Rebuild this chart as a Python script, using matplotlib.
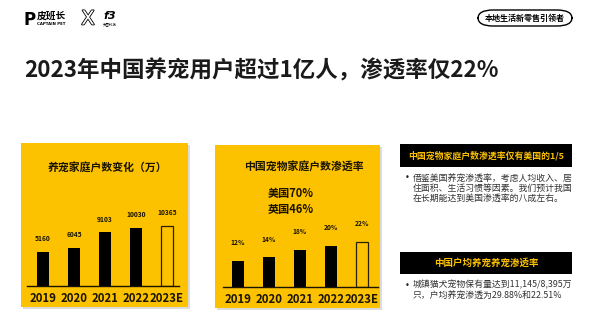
import matplotlib
matplotlib.use("Agg")
import matplotlib.pyplot as plt
import matplotlib.patheffects as pe
from matplotlib.patches import Rectangle, FancyBboxPatch

plt.rcParams['font.family'] = ['Noto Sans CJK SC', 'DejaVu Sans']

# data
years = ["2019", "2020", "2021", "2022", "2023E"]
households = [5160, 6045, 9103, 10030, 10365]       # 万户
penetration = [12, 14, 18, 20, 22]                   # %
household_labels = ["5160", "6045", "9103", "10030", "10365"]
penetration_labels = ["12%", "14%", "18%", "20%", "22%"]

title = "2023年中国养宠用户超过1亿人，渗透率仅22%"
left_title = "养宠家庭户数变化（万）"
mid_title = "中国宠物家庭户数渗透率"
mid_note = ["美国70%", "英国46%"]
box1_head = "中国宠物家庭户数渗透率仅有美国的1/5"
box1_text = ["借鉴美国养宠渗透率，考虑人均收入、居",
             "住面积、生活习惯等因素。我们预计我国",
             "在长期能达到美国渗透率的八成左右。"]
box2_head = "中国户均养宠养宠渗透率"
box2_text = ["城镇猫犬宠物保有量达到11,145/8,395万",
             "只，户均养宠渗透为29.88%和22.51%"]

YELLOW = "#FCC200"
DARK = "#1a1400"
W, H = 600, 336

fig = plt.figure(figsize=(6, 3.36), dpi=100)
fig.patch.set_facecolor("white")


# helpers: pixel coords (from top-left) -> figure fraction
def fx(x):
    return x / W


def fy(y):
    return 1 - y / H


def ftext(x, y, s, **kw):
    fig.text(fx(x), fy(y), s, **kw)


def fbox(x0, y0, x1, y1, color, shadow=False):
    if shadow:
        fig.patches.append(Rectangle((fx(x0 + 2), fy(y1 + 2)), fx(x1 - x0), (y1 - y0) / H,
                                     transform=fig.transFigure, facecolor="#dcdcdc",
                                     edgecolor="none", zorder=-3))
    fig.patches.append(Rectangle((fx(x0), fy(y1)), fx(x1 - x0), (y1 - y0) / H,
                                 transform=fig.transFigure, facecolor=color,
                                 edgecolor="none", zorder=-2))


# header: logo and badge
ftext(30, 20, "P", fontsize=12, fontweight="bold", ha="center", va="center",
      family="DejaVu Sans", color="black")
ftext(37, 16, "皮班长", fontsize=7, fontweight="bold", va="center", color="black")
ftext(37, 24, "CAPTAIN PET", fontsize=2.8, fontweight="bold", va="center",
      family="DejaVu Sans", color="black")
ftext(88, 19, "X", fontsize=14, ha="center", va="center", family="DejaVu Sans",
      color="white", path_effects=[pe.withStroke(linewidth=1.2, foreground="black")])
ftext(110, 16, "f3", fontsize=8, fontweight="bold", style="italic", ha="center",
      va="center", family="DejaVu Sans", color="black")
ftext(110, 24, "天图科技", fontsize=2.5, ha="center", va="center", color="black")

badge = FancyBboxPatch((fx(478), fy(26)), fx(94), 16 / H, transform=fig.transFigure,
                       boxstyle="round,pad=0,rounding_size=0.025", facecolor="white",
                       edgecolor="black", linewidth=1.0)
fig.patches.append(badge)
ftext(525, 18, "本地生活新零售引领者", fontsize=5.8, fontweight="bold", ha="center",
      va="center", color="black")

# main title
ftext(24, 71, title, fontsize=16.2, fontweight="heavy", va="center", color="#1a1a1a")

# yellow panels
fbox(21, 143, 188, 307, YELLOW, shadow=True)
fbox(215, 145, 380, 308, YELLOW, shadow=True)

ftext(107, 168, left_title, fontsize=7.8, fontweight="bold", ha="center", va="center",
      color=DARK)
ftext(304, 167, mid_title, fontsize=7.8, fontweight="bold", ha="center", va="center",
      color=DARK)
ftext(268, 193, mid_note[0], fontsize=8, fontweight="bold", va="center", color=DARK)
ftext(268, 209, mid_note[1], fontsize=8, fontweight="bold", va="center", color=DARK)


def bar_panel(x_left, x_right, y_top, y_base, x0, values, labels, ylim, label_off):
    ax = fig.add_axes([fx(x_left), fy(y_base), fx(x_right - x_left), (y_base - y_top) / H])
    ax.patch.set_alpha(0)
    step = 31.0
    ax.set_xlim((x_left - x0) / step, (x_right - x0) / step)
    ax.set_ylim(*ylim)
    pos = list(range(len(values)))
    for i, v in enumerate(values):
        if i == len(values) - 1:
            ax.bar(i, v - ylim[0], bottom=ylim[0], width=0.37, facecolor="none",
                   edgecolor="#2a2000", linewidth=0.9)
        else:
            ax.bar(i, v - ylim[0], bottom=ylim[0], width=0.39, color="black")
        ax.annotate(labels[i], (i, v), xytext=(0, label_off), textcoords="offset points",
                    ha="center", va="center", fontsize=4.8, fontweight="bold", color=DARK)
    for s in ["top", "right", "left"]:
        ax.spines[s].set_visible(False)
    ax.spines["bottom"].set_color(DARK)
    ax.spines["bottom"].set_linewidth(1.0)
    ax.set_yticks([])
    ax.set_xticks(pos)
    ax.set_xticklabels(years, fontsize=8.2, fontweight="bold", color=DARK)
    ax.tick_params(axis="x", length=0, pad=4)
    return ax


bar_panel(27, 179, 200, 286, 43, households, household_labels, (-1640, 15577), 9.5)
bar_panel(223, 378, 200, 287, 238, penetration, penetration_labels, (-1.68, 44.1), 13)

# right text blocks
fbox(400, 144, 572, 167, "black")
ftext(486, 155.5, box1_head, fontsize=6.4, fontweight="bold", ha="center", va="center",
      color=YELLOW)
ftext(407, 178, "•", fontsize=6, ha="center", va="center", color="#222222",
      family="DejaVu Sans")
for k, line in enumerate(box1_text):
    ftext(413, 178 + k * 10.2, line, fontsize=6.4, va="center", color="#333333")

fbox(400, 252, 572, 274, "black")
ftext(486, 263, box2_head, fontsize=6.8, fontweight="bold", ha="center", va="center",
      color=YELLOW)
ftext(407, 285, "•", fontsize=6, ha="center", va="center", color="#222222",
      family="DejaVu Sans")
for k, line in enumerate(box2_text):
    ftext(413, 285 + k * 10.2, line, fontsize=6.4, va="center", color="#333333")

fig.savefig("out.png", dpi=100)
